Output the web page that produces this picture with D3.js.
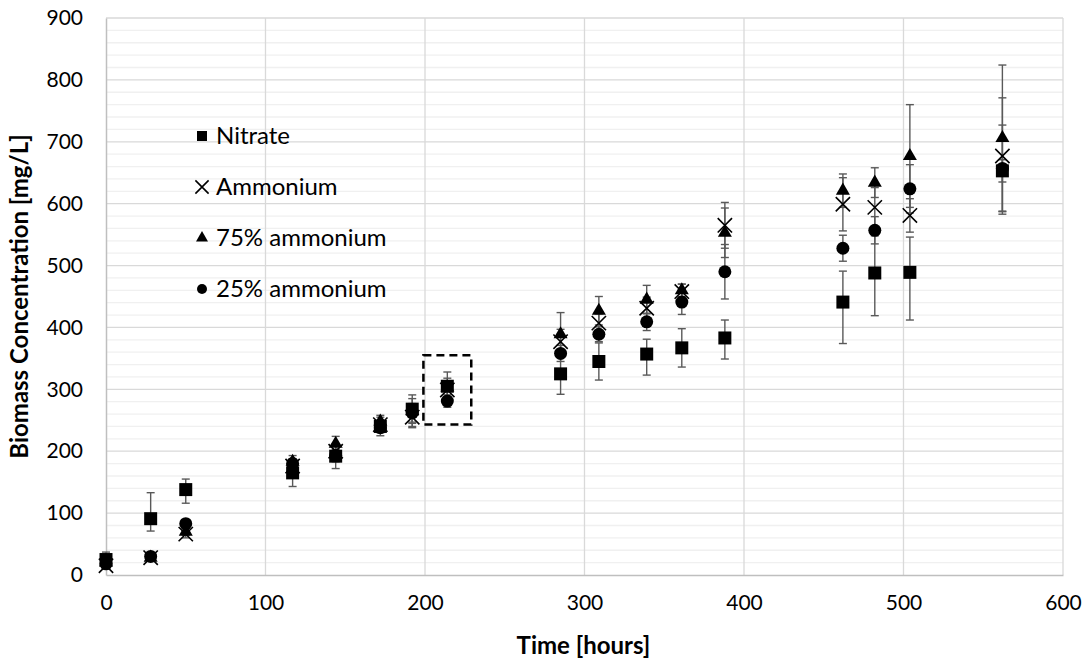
<!DOCTYPE html>
<html>
<head>
<meta charset="utf-8">
<script src="https://cdn.jsdelivr.net/npm/d3@7"></script>
<style>
  body { margin: 0; background: #fff; }
  text { font-family: Lato, "Open Sans", sans-serif; fill: #000; }
</style>
</head>
<body>
<svg id="chart" width="1089" height="663"></svg>
<script>
// sampling times [hours]
var times = [0, 28, 50, 117, 144, 172, 192, 214, 285, 309, 339, 361, 388, 462, 482, 504, 562];

// biomass [mg/L] per series, with error bar sizes (plus / minus)
var nitrate      = [25, 91, 138, 165, 192, 240, 268, 305, 325, 345, 357, 367, 383, 441, 488, 489, 653];
var nitrateUp    = [12, 42, 17, 22, 20, 15, 23, 23, 33, 30, 24, 31, 29, 50, 60, 57, 18];
var nitrateDown  = [12, 20, 22, 22, 20, 15, 30, 23, 33, 30, 34, 31, 34, 67, 69, 77, 18];
var ammonium     = [15, 28, 66, 176, 200, 243, 255, 299, 377, 407, 431, 458, 565, 599, 594, 581, 677];
var ammoniumErr  = [5, 4, 6, 8, 10, 8, 15, 12, 20, 15, 18, 12, 37, 43, 32, 27, 94];
var amm75        = [20, 28, 70, 183, 212, 248, 265, 303, 389, 427, 445, 460, 553, 621, 634, 677, 706];
var amm75Err     = [6, 4, 6, 10, 12, 10, 20, 15, 35, 23, 23, 10, 40, 27, 24, 83, 118];
var amm25        = [18, 30, 83, 180, 193, 238, 262, 281, 358, 389, 409, 441, 490, 528, 557, 624, 657];
var amm25Err     = [5, 4, 6, 8, 10, 8, 15, 10, 13, 12, 14, 20, 44, 21, 22, 39, 70];

var seriesNames = ["Nitrate", "Ammonium", "75% ammonium", "25% ammonium"];
var seriesShapes = ["square", "x", "triangle", "circle"];

var xTicks = [0, 100, 200, 300, 400, 500, 600];
var yTicks = [0, 100, 200, 300, 400, 500, 600, 700, 800, 900];

// highlighted window (dashed box) in data units
var boxTime = [199, 229];
var boxConc = [243, 355];

var series = [
  {name: seriesNames[0], shape: seriesShapes[0], vals: nitrate,  up: nitrateUp,   down: nitrateDown},
  {name: seriesNames[1], shape: seriesShapes[1], vals: ammonium, up: ammoniumErr, down: ammoniumErr},
  {name: seriesNames[2], shape: seriesShapes[2], vals: amm75,    up: amm75Err,    down: amm75Err},
  {name: seriesNames[3], shape: seriesShapes[3], vals: amm25,    up: amm25Err,    down: amm25Err}
];

var pLeft = 106, pRight = 1063, pTop = 18, pBottom = 575;
var svg = d3.select('#chart');

var x = d3.scaleLinear().domain([0, 600]).range([pLeft, pRight]);
var y = d3.scaleLinear().domain([0, 900]).range([pBottom, pTop]);

// minor horizontal gridlines every 20
svg.append('g')
  .selectAll('line')
  .data(d3.range(0, 901, 20).filter(function(v){ return v % 100 != 0; }))
  .join('line')
    .attr('x1', pLeft).attr('x2', pRight)
    .attr('y1', d => y(d)).attr('y2', d => y(d))
    .attr('stroke', '#f0f0f0').attr('stroke-width', 1.3);

// major gridlines
svg.append('g')
  .selectAll('line')
  .data(yTicks.slice(1))
  .join('line')
    .attr('x1', pLeft).attr('x2', pRight)
    .attr('y1', d => y(d)).attr('y2', d => y(d))
    .attr('stroke', '#d9d9d9').attr('stroke-width', 1.3);
svg.append('g')
  .selectAll('line')
  .data(xTicks.slice(1))
  .join('line')
    .attr('x1', d => x(d)).attr('x2', d => x(d))
    .attr('y1', pTop).attr('y2', pBottom)
    .attr('stroke', '#d9d9d9').attr('stroke-width', 1.3);

// axes
var xAxis = svg.append('g')
  .attr('transform', "translate(0," + pBottom + ")")
  .call(d3.axisBottom(x).tickValues(xTicks).tickSize(0).tickPadding(20));
var yAxis = svg.append('g')
  .attr('transform', "translate(" + pLeft + ",0)")
  .call(d3.axisLeft(y).tickValues(yTicks).tickSize(0).tickPadding(23));
[xAxis, yAxis].forEach(function(a){
  a.select('.domain').attr('stroke', '#bfbfbf').attr('stroke-width', 1.5);
  a.selectAll('text').style('font-size', '21px').style('font-family', 'Lato, sans-serif');
});

// error bars
series.forEach(function(s){
  var g = svg.append('g').attr('stroke', '#595959').attr('stroke-width', 1.4);
  times.forEach(function(t, i){
    var cx = x(t), y0 = y(s.vals[i] - s.down[i]), y1 = y(s.vals[i] + s.up[i]);
    g.append('line').attr('x1', cx).attr('x2', cx).attr('y1', y0).attr('y2', y1);
    g.append('line').attr('x1', cx - 4).attr('x2', cx + 4).attr('y1', y0).attr('y2', y0);
    g.append('line').attr('x1', cx - 4).attr('x2', cx + 4).attr('y1', y1).attr('y2', y1);
  });
});

function marker(g, shape, cx, cy, sz){
  if(shape == 'x'){
    var h = sz * 0.55;
    g.append('path')
      .attr('d', "M" + (cx-h) + "," + (cy-h) + "L" + (cx+h) + "," + (cy+h) + "M" + (cx-h) + "," + (cy+h) + "L" + (cx+h) + "," + (cy-h))
      .attr('stroke', '#000').attr('stroke-width', 1.6).attr('fill', 'none');
    return;
  }
  var type = shape == 'square' ? d3.symbolSquare : shape == 'triangle' ? d3.symbolTriangle : d3.symbolCircle;
  // triangle area for side ~ sz
  var area = shape == 'square' ? sz*sz : shape == 'triangle' ? sz*sz*0.433 : Math.PI*sz*sz/4;
  g.append('path')
    .attr('d', d3.symbol().type(type).size(area)())
    .attr('transform', "translate(" + cx + "," + cy + ")")
    .attr('fill', '#000');
}

series.forEach(function(s){
  var g = svg.append('g');
  times.forEach(function(t, i){
    marker(g, s.shape, x(t), y(s.vals[i]), s.shape == 'triangle' ? 14 : 13);
  });
});

// dashed highlight box
svg.append('rect')
  .attr('x', x(boxTime[0])).attr('y', y(boxConc[1]))
  .attr('width', x(boxTime[1]) - x(boxTime[0]))
  .attr('height', y(boxConc[0]) - y(boxConc[1]))
  .attr('fill', 'none').attr('stroke', '#000')
  .attr('stroke-width', 2.5).attr('stroke-dasharray', '8,5');

// legend
var leg = svg.append('g');
series.forEach(function(s, i){
  var ly = 136 + i * 51;
  var sz = s.shape == 'x' ? 12 : s.shape == 'triangle' ? 12 : 10;
  marker(leg, s.shape, 202, ly, sz);
  leg.append('text').attr('x', 216).attr('y', ly + 8)
    .style('font-size', '24px').text(s.name);
});

// axis titles
svg.append('text')
  .attr('x', (pLeft + pRight) / 2 - 1).attr('y', 654)
  .attr('text-anchor', 'middle')
  .style('font-size', '24px').style('font-weight', 'bold')
  .text('Time [hours]');
svg.append('text')
  .attr('transform', "translate(28," + ((pTop + pBottom) / 2) + ") rotate(-90)")
  .attr('text-anchor', 'middle')
  .style('font-size', '24px').style('font-weight', 'bold')
  .text('Biomass Concentration [mg/L]');
</script>
</body>
</html>
